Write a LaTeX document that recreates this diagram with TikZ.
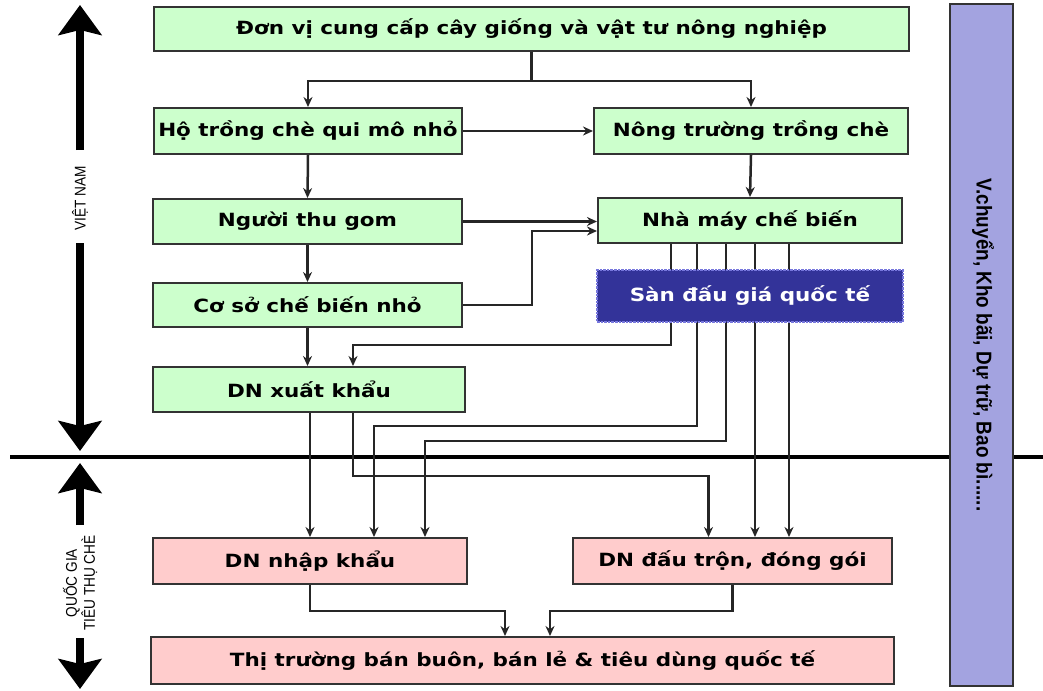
\documentclass[tikz,border=0pt]{standalone}
\usepackage{fontspec}
\setmainfont{DejaVu Sans}
\newfontfamily\boxfont[FakeStretch=1.18]{DejaVu Sans}
\newfontfamily\lblfont[FakeStretch=0.88]{Liberation Sans}
\newfontfamily\barfont[FakeStretch=0.88]{Liberation Sans}
\usetikzlibrary{arrows.meta}
\definecolor{gfill}{HTML}{CCFFCC}
\definecolor{pfill}{HTML}{FFCCCC}
\definecolor{bline}{HTML}{333333}
\definecolor{sanfill}{HTML}{333399}
\definecolor{sanedge}{HTML}{7777DD}
\definecolor{barfill}{HTML}{A3A3E0}
\tikzset{
  box/.style={draw=bline, line width=2pt, inner sep=0pt, text=black,
    font=\boxfont\bfseries\fontsize{18.2}{20}\selectfont},
  gbox/.style={box, fill=gfill},
  pbox/.style={box, fill=pfill},
  sanbox/.style={fill=sanfill, draw=sanedge, line width=2.6pt, densely dotted, inner sep=0pt,
    text=white, font=\boxfont\bfseries\fontsize{18.2}{20}\selectfont},
  conn/.style={draw=black!85, line width=2.5pt, -{Stealth[length=10pt,width=9pt]}},
  bigarr/.style={line width=7.5pt, -{Stealth[length=30pt,width=43pt,inset=5pt]}},
  lbl/.style={font=\lblfont\fontsize{15.5}{18}\selectfont, rotate=90, align=center, inner sep=0pt},
}
\begin{document}
\begin{tikzpicture}[x=1pt,y=-1pt]
\useasboundingbox (0,0) rectangle (1043,690);
% divider
\coordinate (divL) at (10,457);
\coordinate (divR) at (1043,457);
\draw[line width=3.4pt] (divL) -- (divR);

% nodes
\node[gbox, minimum width=755pt, minimum height=44pt] (top) at (531.5,29) {Đơn vị cung cấp cây giống và vật tư nông nghiệp};
\node[gbox, minimum width=308pt, minimum height=46pt] (ho) at (308,131) {Hộ trồng chè qui mô nhỏ};
\node[gbox, minimum width=314pt, minimum height=46pt] (nt) at (751,131) {Nông trường trồng chè};
\node[gbox, minimum width=309pt, minimum height=45pt] (thugom) at (307.5,221.5) {Người thu gom};
\node[gbox, minimum width=304pt, minimum height=45pt] (nmcb) at (750,220.5) {Nhà máy chế biến};
\node[gbox, minimum width=309pt, minimum height=44pt] (coso) at (307.5,305) {Cơ sở chế biến nhỏ};
\node[gbox, minimum width=312pt, minimum height=45pt] (dnxk) at (309,389.5) {DN xuất khẩu};
\node[pbox, minimum width=314pt, minimum height=46pt] (dnnk) at (310,561) {DN nhập khẩu};
\node[pbox, minimum width=319pt, minimum height=46pt] (dntr) at (732.5,561) {DN đấu trộn, đóng gói};
\node[pbox, minimum width=743pt, minimum height=47pt] (tt) at (522.5,660.5) {Thị trường bán buôn, bán lẻ \& tiêu dùng quốc tế};

% connectors
\draw[conn] (top.south) -- ++(0,29) -| (ho.north);
\draw[conn] (top.south) -- ++(0,29) -| (nt.north);
\draw[conn] (ho.east) -- (nt.west);
\draw[conn] (ho.south) -- (thugom.north);
\draw[conn] (nt.south) -- (nmcb.north);
\draw[conn] (thugom.east) -- (thugom.east -| nmcb.west);
\draw[conn] (thugom.south) -- (coso.north);
\draw[conn] (coso.east) -- ++(69,0) |- ([yshift=-10.5pt]nmcb.west);
\draw[conn] (coso.south) -- (coso.south |- dnxk.north);
\draw[conn] ([xshift=-79pt]nmcb.south) -- ++(0,101) -| ([xshift=44pt]dnxk.north);
\draw[conn] ([xshift=-53pt]nmcb.south) -- ++(0,182) -| ([xshift=64pt]dnnk.north);
\draw[conn] ([xshift=-24pt]nmcb.south) -- ++(0,197) -| ([xshift=115pt]dnnk.north);
\draw[conn] ([xshift=5pt]nmcb.south) -- ([xshift=5pt]nmcb.south |- dntr.north);
\draw[conn] ([xshift=39pt]nmcb.south) -- ([xshift=39pt]nmcb.south |- dntr.north);
\draw[conn] ([xshift=1pt]dnxk.south) -- ([xshift=1pt]dnxk.south |- dnnk.north);
\draw[conn] ([xshift=44pt]dnxk.south) -- ++(0,63) -| ([xshift=-24pt]dntr.north);
\draw[conn] (dnnk.south) -- ++(0,26) -| ([xshift=-17.5pt]tt.north);
\draw[conn] (dntr.south) -- ++(0,26) -| ([xshift=27.5pt]tt.north);

% auction floor (on top of the lines)
\node[sanbox, minimum width=306pt, minimum height=52pt] (san) at (750,296) {Sàn đấu giá quốc tế};

% right bar
\node[draw=bline, line width=1.6pt, fill=barfill, minimum width=63pt, minimum height=682pt, inner sep=0pt] (bar) at (981.5,345) {};
\node[rotate=-90, font=\barfont\bfseries\fontsize{21.5}{24}\selectfont, inner sep=0pt] (bartext) at (983,345) {V.chuyển, Kho bãi, Dự trữ, Bao bì......};

% left side arrows
\node[lbl] (vn) at (80,198) {VIỆT NAM};
\coordinate (vnTopS) at (80,150);
\coordinate (vnTop) at (80,5);
\coordinate (vnBotS) at (80,243);
\coordinate (vnBot) at (80,451);
\draw[bigarr] (vnTopS) -- (vnTop);
\draw[bigarr] (vnBotS) -- (vnBot);
\node[lbl] (qg) at (80,583) {QUỐC GIA\\TIÊU THỤ CHÈ};
\coordinate (qgTopS) at (80,525);
\coordinate (qgTop) at (80,463);
\coordinate (qgBotS) at (80,638);
\coordinate (qgBot) at (80,689);
\draw[bigarr] (qgTopS) -- (qgTop);
\draw[bigarr] (qgBotS) -- (qgBot);
\end{tikzpicture}
\end{document}
